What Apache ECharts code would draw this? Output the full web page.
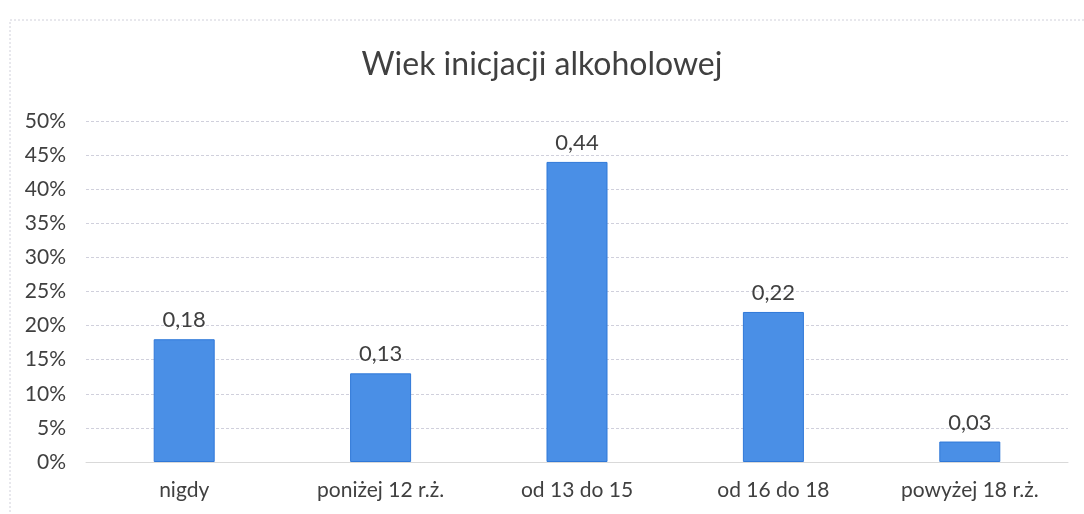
<!DOCTYPE html>
<html>
<head>
<meta charset="utf-8">
<script src="https://cdn.jsdelivr.net/npm/echarts@6/dist/echarts.min.js"></script>
<style>
  html, body { margin: 0; padding: 0; background: #fff; }
  #chart { width: 1084px; height: 514px; }
</style>
</head>
<body>
<div id="chart"></div>
<script>
// dane wykresu
const categories = ["nigdy", "poniżej 12 r.ż.", "od 13 do 15", "od 16 do 18", "powyżej 18 r.ż."];
const values = [0.18, 0.13, 0.44, 0.22, 0.03];
const yTicks = [0, 0.05, 0.1, 0.15, 0.2, 0.25, 0.3, 0.35, 0.4, 0.45, 0.5];

const font = "Lato, 'Open Sans', sans-serif";

let myChart = echarts.init(document.getElementById("chart"));
myChart.setOption({
  animation: false,
  backgroundColor: "#fff",
  title: {
    text: "Wiek inicjacji alkoholowej",
    left: "center",
    top: 44,
    textStyle: { color: "#404040", fontSize: 32, fontWeight: "normal", fontFamily: font }
  },
  graphic: [{
    type: "rect",
    shape: { x: 10, y: 20, width: 1090, height: 510 },
    style: { fill: "none", stroke: "#d0d0da", lineWidth: 1, lineDash: [2, 2] }
  }],
  grid: { left: 86, right: 16, top: 121, bottom: 52 },
  xAxis: {
    type: "category",
    data: categories,
    axisTick: { show: false },
    axisLine: { lineStyle: { color: "#d9d9d9" } },
    axisLabel: { color: "#404040", fontSize: 21, fontFamily: font, margin: 18 }
  },
  yAxis: {
    type: "value",
    min: yTicks[0],
    max: yTicks[yTicks.length - 1],
    interval: 0.05,
    axisLine: { show: false },
    axisTick: { show: false },
    splitLine: { lineStyle: { color: "#d0d0dc", type: [3, 2] } },
    axisLabel: {
      color: "#404040", fontSize: 21, fontFamily: font, margin: 20,
      formatter: v => Math.round(v * 100) + "%"
    }
  },
  series: [{
    type: "bar",
    data: values,
    barWidth: 61,
    itemStyle: { color: "#4a8fe6", borderColor: "#2f78d8", borderWidth: 1 },
    label: {
      show: true,
      position: "top",
      distance: 8,
      color: "#404040",
      fontSize: 22,
      fontFamily: font,
      formatter: p => p.value.toFixed(2).replace(".", ",")
    }
  }]
});
</script>
</body>
</html>
